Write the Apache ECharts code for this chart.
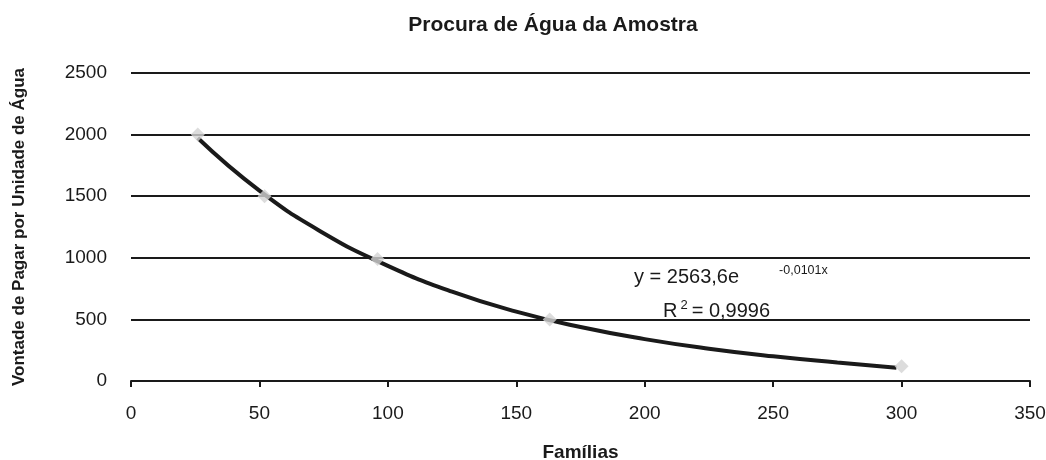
<!DOCTYPE html>
<html>
<head>
<meta charset="utf-8">
<script src="https://cdn.jsdelivr.net/npm/echarts@6/dist/echarts.min.js"></script>
<style>
  html, body { margin: 0; padding: 0; background: #fff; }
  #main { width: 1046px; height: 460px; }
</style>
</head>
<body>
<div id="main"></div>
<script>
// observed sample points (Famílias, Vontade de Pagar)
var familias = [26, 52, 96, 163, 300];
var vontade = [2000, 1500, 990, 500, 120];

// exponential trend line
var trendX = [26, 50, 75, 100, 125, 150, 175, 200, 225, 250, 275, 298];
var trendY = [1972, 1545, 1200, 935, 725, 563, 438, 340, 262, 200, 150, 108];

var xTicks = [0, 50, 100, 150, 200, 250, 300, 350];
var yTicks = [0, 500, 1000, 1500, 2000, 2500];

var myChart = echarts.init(document.getElementById("main"));
var font = "Liberation Sans, Arial, sans-serif";

var option = {
  backgroundColor: "#fff",
  animation: false,
  title: {
    text: "Procura de Água da Amostra",
    left: 548,
    top: 10,
    textAlign: "center",
    textStyle: { fontFamily: font, fontSize: 21, fontWeight: "bold", color: "#1a1a1a" },
  },
  grid: { left: 131, right: 16, top: 73, bottom: 79, containLabel: false, outerBoundsMode: "none" },
  xAxis: {
    type: "value",
    min: xTicks[0],
    max: xTicks[xTicks.length - 1],
    interval: 50,
    name: "Famílias",
    nameLocation: "middle",
    nameGap: 62,
    nameTextStyle: { fontFamily: font, fontSize: 19, fontWeight: "bold", color: "#1a1a1a" },
    axisLine: { show: true, lineStyle: { color: "#1a1a1a", width: 2 } },
    axisTick: { show: true, length: 6, inside: false, lineStyle: { color: "#1a1a1a", width: 2 } },
    axisLabel: { fontFamily: font, fontSize: 19, color: "#1a1a1a", margin: 23 },
    splitLine: { show: false },
  },
  yAxis: {
    type: "value",
    min: yTicks[0],
    max: yTicks[yTicks.length - 1],
    interval: 500,
    name: "Vontade de Pagar por Unidade de Água",
    nameLocation: "middle",
    nameGap: 103,
    nameTextStyle: { fontFamily: font, fontSize: 17, fontWeight: "bold", color: "#1a1a1a" },
    axisLine: { show: false },
    axisTick: { show: false },
    axisLabel: {
      fontFamily: font, fontSize: 19, color: "#1a1a1a", margin: 24,
      formatter: function (v) { return String(v); },
    },
    splitLine: { show: true, lineStyle: { color: "#1a1a1a", width: 2 } },
  },
  series: [
    {
      name: "tendência",
      type: "line",
      smooth: true,
      showSymbol: false,
      data: trendX.map(function (x, i) { return [x, trendY[i]]; }),
      lineStyle: { color: "#1a1a1a", width: 4 },
      z: 2,
    },
    {
      name: "amostra",
      type: "scatter",
      symbol: "diamond",
      symbolSize: [14, 14],
      data: familias.map(function (x, i) { return [x, vontade[i]]; }),
      itemStyle: { color: "#d3d3d3" },
      z: 3,
    },
  ],
  graphic: [
    {
      type: "text",
      left: 634,
      top: 264,
      style: {
        text: "{b|y = 2563,6e}{s|-0,0101x}",
        rich: {
          b: { fontFamily: font, fontSize: 20, fill: "#1a1a1a", lineHeight: 24 },
          s: { fontFamily: font, fontSize: 12.5, fill: "#1a1a1a", padding: [0, 0, 14, 40] },
        },
      },
    },
    {
      type: "text",
      left: 663,
      top: 299,
      style: {
        text: "{b|R}{s|2}{b|= 0,9996}",
        rich: {
          b: { fontFamily: font, fontSize: 20, fill: "#1a1a1a", lineHeight: 24 },
          s: { fontFamily: font, fontSize: 13, fill: "#1a1a1a", verticalAlign: "top", lineHeight: 13, padding: [0, 4, 10, 3] },
        },
      },
    },
  ],
};

myChart.setOption(option);
</script>
</body>
</html>
